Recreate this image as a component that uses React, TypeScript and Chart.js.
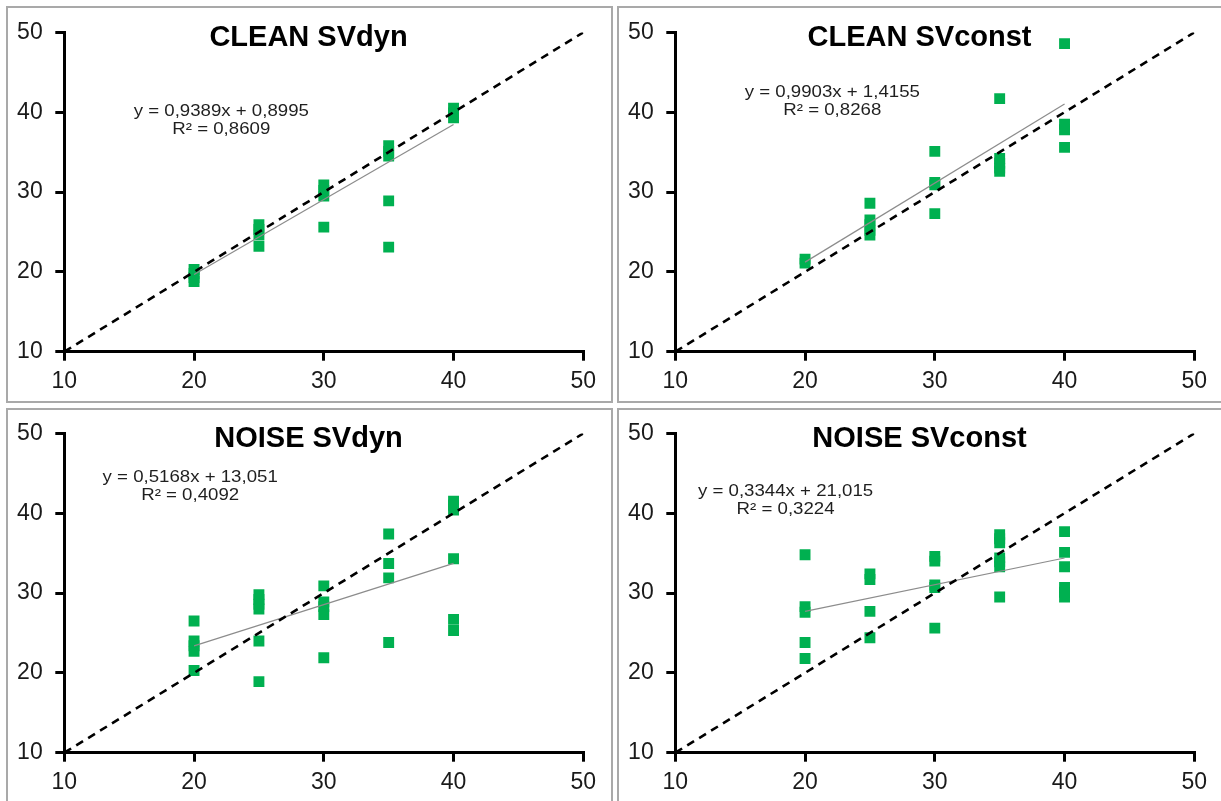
import React, { useEffect, useRef } from "react";
import { Chart, registerables } from "chart.js";

Chart.register(...registerables);

// ---- data ----
const xLevels = [20, 25, 30, 35, 40];

const cleanSVdyn = [
  [20.3, 19.8, 19.3, 18.8],
  [25.9, 25.3, 24.6, 23.2],
  [30.9, 30.2, 29.5, 25.6],
  [35.8, 35.1, 34.5, 28.9, 23.1],
  [40.5, 39.9, 39.3],
];
const cleanSVconst = [
  [21.6, 21.1],
  [28.6, 26.5, 25.9, 25.2, 24.6],
  [35.1, 31.2, 30.9, 27.3],
  [41.7, 34.2, 33.6, 33.0, 32.6],
  [48.6, 38.5, 37.8, 35.6],
];
const noiseSVdyn = [
  [26.5, 24.0, 23.4, 22.7, 20.3],
  [29.8, 29.2, 28.6, 28.0, 24.0, 18.9],
  [30.9, 28.9, 28.3, 27.3, 21.9],
  [37.4, 33.7, 31.9, 23.8],
  [41.5, 41.0, 40.4, 34.3, 26.7, 25.3],
];
const noiseSVconst = [
  [34.8, 28.3, 27.6, 23.8, 21.8],
  [32.4, 31.7, 27.7, 24.4],
  [34.6, 34.0, 31.0, 30.7, 25.6],
  [37.3, 36.8, 36.3, 34.4, 33.9, 33.3, 29.5],
  [37.7, 35.1, 33.3, 30.7, 30.1, 29.5],
];

const titles = ["CLEAN SVdyn", "CLEAN SVconst", "NOISE SVdyn", "NOISE SVconst"];
const seriesList = [cleanSVdyn, cleanSVconst, noiseSVdyn, noiseSVconst];
const trendSlopes = [0.9389, 0.9903, 0.5168, 0.3344];
const trendIntercepts = [0.8995, 1.4155, 13.051, 21.015];
const equationTexts = [
  "y = 0,9389x + 0,8995",
  "y = 0,9903x + 1,4155",
  "y = 0,5168x + 13,051",
  "y = 0,3344x + 21,015",
];
const r2Texts = ["R² = 0,8609", "R² = 0,8268", "R² = 0,4092", "R² = 0,3224"];
const identityLine = [10, 50];
const trendRange = [20, 40];
const axisTicks = [10, 50, 10]; // min, max, step

// label anchors (in data units)
const labelX = [22.1, 22.1, 19.7, 18.5];
const labelY = [40.3, 42.7, 44.7, 42.9];

const FONT = "'Liberation Sans', Arial, Helvetica, sans-serif";

const panels = [
  { boxLeft: 6, boxTop: 6, boxW: 607, canvasTop: 6 },
  { boxLeft: 617, boxTop: 6, boxW: 610, canvasTop: 6 },
  { boxLeft: 6, boxTop: 408, boxW: 607, canvasTop: 407 },
  { boxLeft: 617, boxTop: 408, boxW: 610, canvasTop: 407 },
];

const CW = 607;
const CH = 397;

function Panel({ idx }: { idx: number }) {
  const ref = useRef<HTMLCanvasElement | null>(null);
  useEffect(() => {
    if (!ref.current) return;
    const series = seriesList[idx];
    const pts: { x: number; y: number }[] = [];
    series.forEach((ys, i) => ys.forEach((y) => pts.push({ x: xLevels[i], y })));
    const m = trendSlopes[idx];
    const b = trendIntercepts[idx];
    const trend = trendRange.map((x) => ({ x, y: m * x + b }));
    const ident = identityLine.map((v) => ({ x: v, y: v }));

    const textPlugin = {
      id: "panelText",
      afterDraw(chart: any) {
        const ctx = chart.ctx;
        ctx.save();
        ctx.fillStyle = "#000";
        ctx.font = `bold 29px ${FONT}`;
        ctx.textAlign = "center";
        ctx.textBaseline = "alphabetic";
        ctx.fillText(titles[idx], CW / 2 - 1, 39.5);
        const px = chart.scales.x.getPixelForValue(labelX[idx]);
        const py = chart.scales.y.getPixelForValue(labelY[idx]);
        ctx.fillStyle = "#1f1f1f";
        ctx.font = `16.5px ${FONT}`;
        ctx.translate(px, py + 5.9);
        ctx.scale(1.13, 1);
        ctx.fillText(equationTexts[idx], 0, 0);
        ctx.fillText(r2Texts[idx], 0, 18.4);
        ctx.restore();
      },
    };

    const axis = (isX: boolean) => ({
      type: "linear" as const,
      min: axisTicks[0],
      max: axisTicks[1],
      ticks: {
        stepSize: axisTicks[2],
        color: "#1a1a1a",
        font: { family: FONT, size: 23 },
        padding: isX ? 6.8 : 12.6,
      },
      grid: {
        display: true,
        drawOnChartArea: false,
        drawTicks: true,
        tickLength: 9,
        color: "#000",
        lineWidth: 3,
      },
      border: { display: true, color: "#000", width: 3 },
      afterFit: (scale: any) => {
        if (isX) scale.height = 51.3;
        else scale.width = 58.3;
      },
    });

    const chart = new Chart(ref.current, {
      type: "scatter",
      data: {
        datasets: [
          {
            data: ident,
            showLine: true,
            borderColor: "#000",
            borderWidth: 2.6,
            borderDash: [8, 6],
            pointRadius: 0,
            order: 0,
          } as any,
          {
            data: trend,
            showLine: true,
            borderColor: "#8c8c8c",
            borderWidth: 1.2,
            pointRadius: 0,
            order: 1,
          } as any,
          {
            data: pts,
            showLine: false,
            pointStyle: "rect",
            pointRadius: 7.7,
            backgroundColor: "#00b050",
            borderWidth: 0,
            order: 2,
          } as any,
        ],
      },
      options: {
        animation: false,
        responsive: false,
        devicePixelRatio: 1,
        events: [],
        layout: { padding: { left: 0, top: 21, right: 29.7, bottom: 0 } },
        plugins: {
          legend: { display: false },
          tooltip: { enabled: false },
          title: { display: false },
        },
        scales: { x: axis(true), y: axis(false) } as any,
      },
      plugins: [textPlugin],
    });
    return () => chart.destroy();
  }, [idx]);

  const p = panels[idx];
  return (
    <>
      <div
        style={{
          position: "absolute",
          left: p.boxLeft,
          top: p.boxTop,
          width: p.boxW,
          height: 397,
          border: "2px solid #a9a9a9",
          boxSizing: "border-box",
        }}
      />
      <canvas
        ref={ref}
        width={CW}
        height={CH}
        style={{
          position: "absolute",
          left: p.boxLeft,
          top: p.canvasTop,
          width: CW,
          height: CH,
        }}
      />
    </>
  );
}

export default function App() {
  return (
    <div
      style={{
        position: "absolute",
        left: 0,
        top: 0,
        width: 1221,
        height: 801,
        overflow: "hidden",
        background: "#fff",
      }}
    >
      {titles.map((_, i) => (
        <Panel key={i} idx={i} />
      ))}
    </div>
  );
}
